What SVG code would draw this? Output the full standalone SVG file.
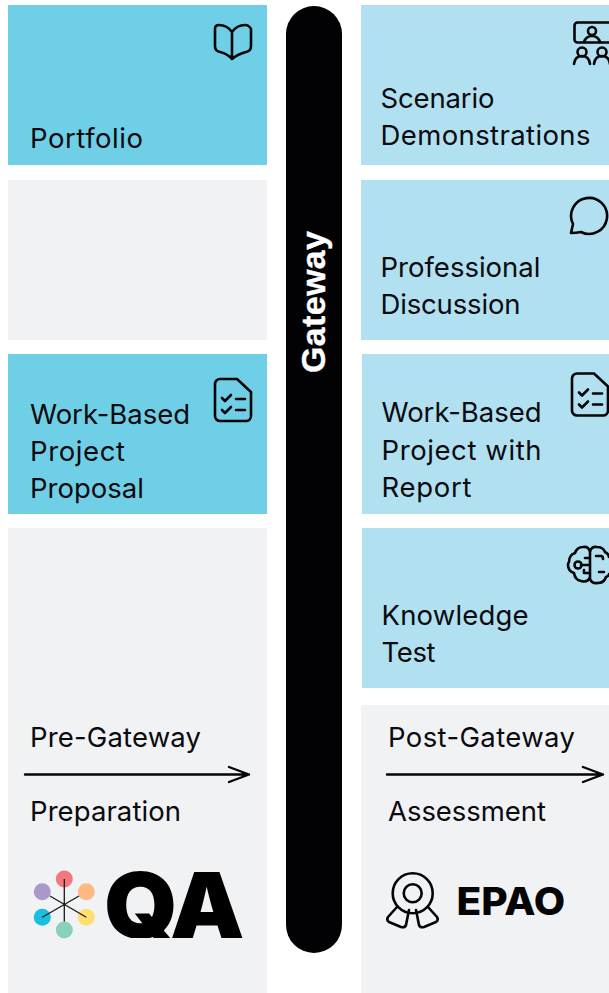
<svg xmlns="http://www.w3.org/2000/svg" width="609" height="993" viewBox="0 0 609 993">
<style>
.t{font-family:"Inter","Noto Sans","Liberation Sans",sans-serif;font-size:27.5px;fill:#0b0b0f}
.a{fill:#6fcfe6}.b{fill:#b1e0f0}.g{fill:#f1f2f4}
.i{fill:none;stroke:#050507;stroke-width:2.6;stroke-linecap:round;stroke-linejoin:round}
.l{fill:none;stroke:#050507;stroke-width:2.4;stroke-linecap:round;stroke-linejoin:round}
</style>
<defs>
<g id="checklist"><path class="i" d="M5 0H22L36 13V37a5 5 0 0 1-5 5H5a5 5 0 0 1-5-5V5a5 5 0 0 1 5-5Z"/><path class="i" d="M7 19l3 3 6-6M7 31l3 3 6-6M21 20h9M21 31h9"/></g>
<clipPath id="base"><rect x="100" y="860" width="150" height="78"/></clipPath>
</defs>
<rect width="609" height="993" fill="#fff"/>
<g id="portfolio"><rect class="a" x="8" y="5" width="259" height="160"/><path class="i" d="M232 59q-4-5-12-7-5-1-5-6V29q0-4 4-4 8 0 13 7 5-7 13-7 4 0 6 4V46q0 5-5 6-8 2-14 7ZM232 32V59"/><text class="t" x="30" y="148" textLength="113">Portfolio</text></g>
<g id="empty"><rect class="g" x="8" y="180" width="259" height="160"/></g>
<g id="wbp-proposal"><rect class="a" x="8" y="354" width="259" height="160"/><use href="#checklist" x="215" y="379"/><text class="t" x="30" y="424" textLength="160">Work-Based</text><text class="t" x="30" y="461" textLength="95">Project</text><text class="t" x="30" y="498" textLength="114">Proposal</text></g>
<g id="pre-gateway"><rect class="g" x="8" y="528" width="259" height="465"/><text class="t" x="30" y="747" textLength="171">Pre-Gateway</text><text class="t" x="30" y="821" textLength="151">Preparation</text></g>
<g id="qa-logo">
<circle cx="64.300" cy="879" r="8.500" fill="#f4777f"/><circle cx="86.300" cy="891.700" r="8.500" fill="#fdb97f"/><circle cx="86.300" cy="917.300" r="8.500" fill="#ffe06f"/><circle cx="42.300" cy="917.300" r="8.500" fill="#19bfe0"/><circle cx="42.300" cy="891.700" r="8.500" fill="#a998ca"/>
<path d="M64.300 879V925M42.300 917.300L79 896M50 896L86.300 917.300" stroke="#1a1a1a" stroke-width="1.300" fill="none"/>
<circle cx="64.300" cy="930" r="8.500" fill="#8ad0bb"/>
<g clip-path="url(#base)"><text transform="translate(104 938) scale(1.03 1)" font-family="Inter,'Liberation Sans',sans-serif" font-weight="900" font-size="91" letter-spacing="-3" fill="#000">QA</text></g></g>
<g id="gateway"><rect x="286" y="6" width="56" height="947" rx="28" fill="#020104"/><text transform="translate(325 373) rotate(-90)" font-family="'Liberation Sans',sans-serif" font-weight="700" font-size="34" textLength="142" stroke="#fff" stroke-width="0.400" fill="#fff">Gateway</text></g>
<g id="scenario"><rect class="b" x="361" y="5" width="248" height="160"/><rect class="i" x="574.500" y="22.500" width="40" height="20" rx="3"/><circle class="i" cx="592" cy="31" r="4"/><path class="i" d="M584 42q2-6 8-6t8 6"/><circle class="i" cx="582" cy="52" r="4.500"/><circle class="i" cx="602" cy="52" r="4.500"/><path class="i" d="M574 64q1-8 8-8t8 8M594 64q1-8 8-8t8 8"/><text class="t" x="380.500" y="108" textLength="114">Scenario</text><text class="t" x="380.500" y="145" textLength="210">Demonstrations</text></g>
<g id="discussion"><rect class="b" x="361" y="180" width="248" height="160"/><path class="i" d="M571 233L573 224A18 18 0 1 1 581 232Q576 233 571 233Z"/><text class="t" x="380.500" y="277" textLength="160">Professional</text><text class="t" x="380.500" y="314" textLength="140">Discussion</text></g>
<g id="wbp-report"><rect class="b" x="362" y="354" width="247" height="160"/><use href="#checklist" x="572" y="373.500"/><text class="t" x="381.500" y="422" textLength="160">Work-Based</text><text class="t" x="381.500" y="460" textLength="160">Project with</text><text class="t" x="381.500" y="497" textLength="90">Report</text></g>
<g id="knowledge"><rect class="b" x="362" y="528" width="247" height="160"/><path class="i" d="M590 552q-1-6-7-5-6 0-8 6-6 2-6 9-1 1-1 3 0 6 6 8 1 7 7 8 7 2 9-4ZM590 552V579M581 565H590M590 558h-5M590 573h-6v-3M590 552q1-6 7-5 6 0 8 5 4 2 4 5M590 579q2 5 8 4 6 0 8-6 3-1 3-3M596 556h5q2 0 2 3M599 572h5"/><circle class="i" cx="578" cy="565" r="3.500"/><text class="t" x="381.500" y="625" textLength="147">Knowledge</text><text class="t" x="381.500" y="662" textLength="54">Test</text></g>
<g id="post-gateway"><rect class="g" x="361" y="705" width="248" height="288"/><text class="t" x="388" y="747" textLength="187">Post-Gateway</text><text class="t" x="388" y="821" textLength="158">Assessment</text></g>
<g id="epao-logo"><circle class="i" cx="412.700" cy="893.300" r="20"/><circle class="i" cx="412.700" cy="893.300" r="9"/><path class="i" d="M397 907L388 917q-2 3 1 5l12 5q4 1 5-2l3-15M428 907l9 10q2 3-1 5l-12 5q-4 1-5-2l-3-15"/><text transform="translate(456.500 915) scale(1.07 1)" font-family="Inter,'Liberation Sans',sans-serif" font-weight="800" font-size="38" fill="#050507">EPAO</text></g>
<g id="connectors"><path class="l" d="M25 774.500H249M229 767L249 774.500 229 782"/><path class="l" d="M387 774.500H603M583 767L603 774.500 583 782"/></g>
</svg>
